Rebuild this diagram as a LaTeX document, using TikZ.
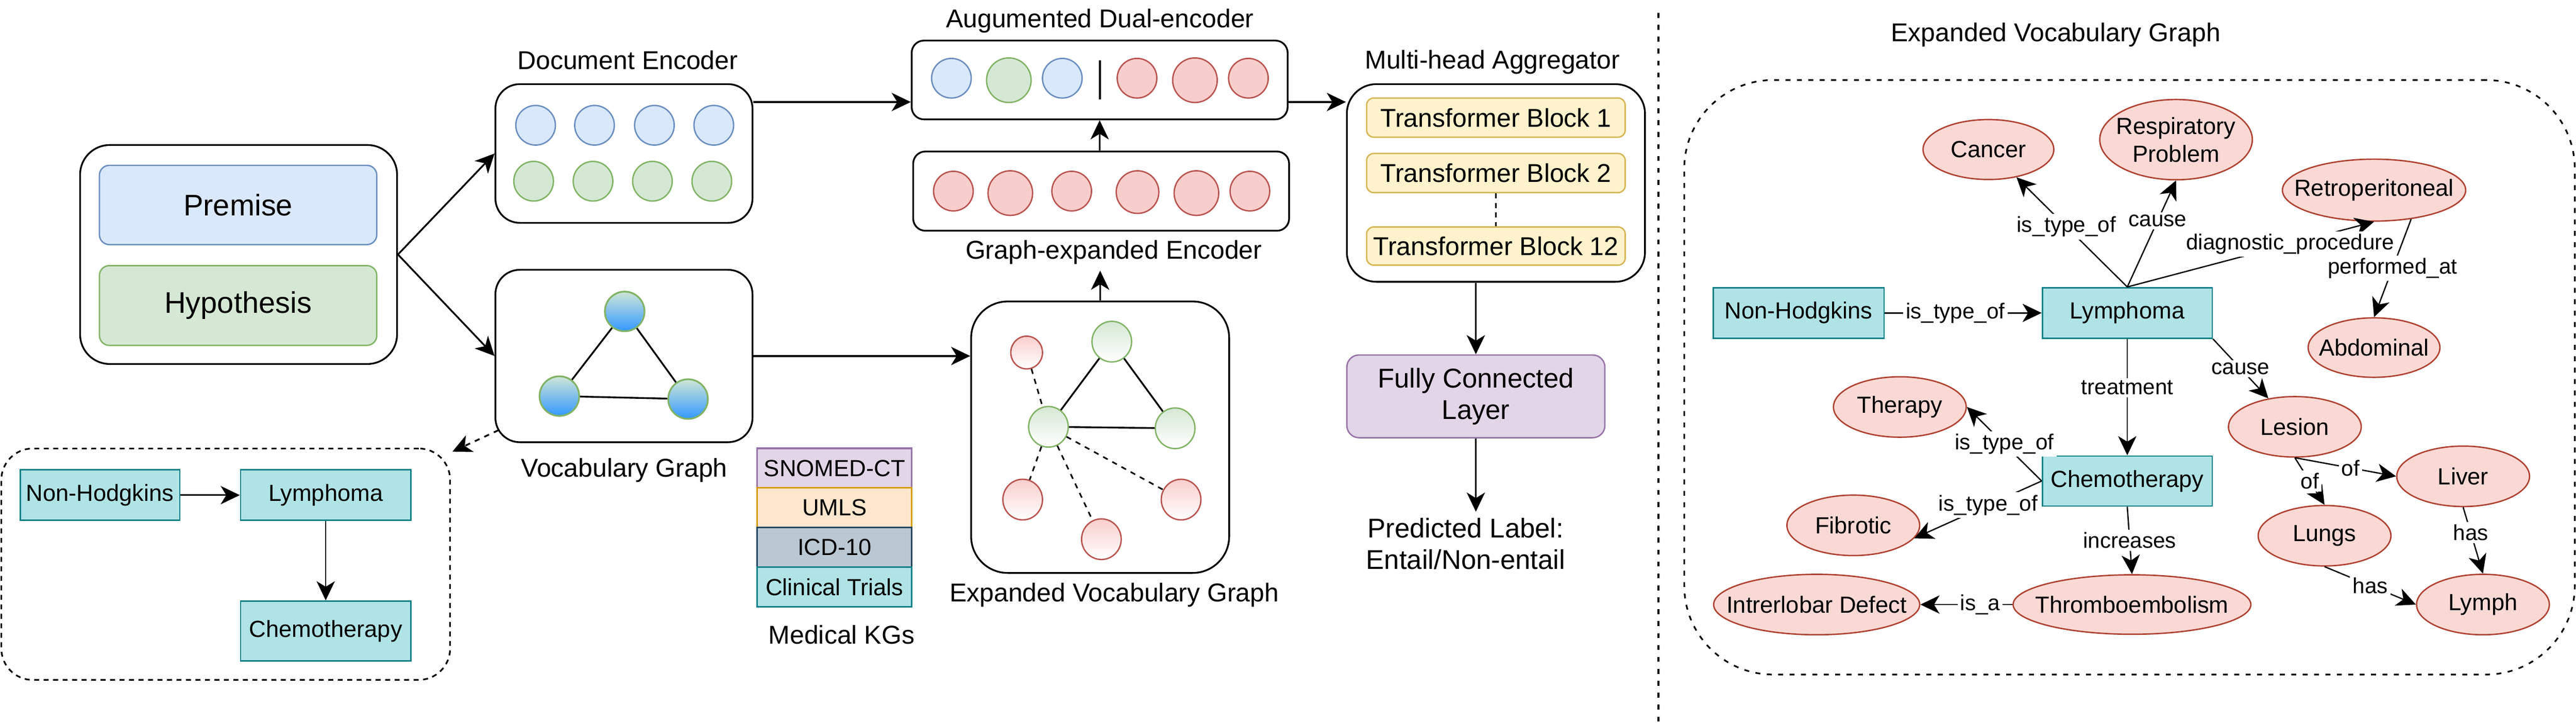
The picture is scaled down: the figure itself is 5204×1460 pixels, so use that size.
\documentclass[tikz,border=0pt]{standalone}
\usepackage{fontspec}
\setmainfont{Liberation Sans}
\usetikzlibrary{arrows.meta,shapes.geometric,calc}

\definecolor{blueF}{HTML}{DAE8FC}\definecolor{blueS}{HTML}{6C8EBF}
\definecolor{greenF}{HTML}{D5E8D4}\definecolor{greenS}{HTML}{82B366}
\definecolor{redF}{HTML}{F8CECC}\definecolor{redS}{HTML}{B85450}
\definecolor{tealF}{HTML}{B0E3E6}\definecolor{tealS}{HTML}{0E8088}
\definecolor{yelF}{HTML}{FFF2CC}\definecolor{yelS}{HTML}{D6B656}
\definecolor{purF}{HTML}{E1D5E7}\definecolor{purS}{HTML}{9673A6}
\definecolor{orF}{HTML}{FFE6CC}\definecolor{orS}{HTML}{D79B00}
\definecolor{grF}{HTML}{BAC8D3}\definecolor{grS}{HTML}{23445D}
\definecolor{kgF}{HTML}{FAD9D5}\definecolor{kgS}{HTML}{AE4132}
\definecolor{vgTop}{HTML}{CFE6D6}\definecolor{vgBot}{HTML}{3399FF}

\newcommand\fsXL{\fontsize{17.1pt}{20pt}\selectfont}
\newcommand\fsL{\fontsize{14.8pt}{17.8pt}\selectfont}
\newcommand\fsP{\fontsize{15.6pt}{18.2pt}\selectfont}
\newcommand\fsM{\fontsize{13.4pt}{16pt}\selectfont}
\newcommand\fsS{\fontsize{12.5pt}{15pt}\selectfont}

\tikzset{
  blk/.style={draw, line width=1pt, rounded corners=14pt, fill=white, inner sep=0pt},
  cbox/.style={draw, line width=0.8pt, rounded corners=5.7pt, inner sep=0pt},
  arr/.style={-{Stealth[length=11pt,width=10.5pt,inset=3.2pt]}, line width=1pt},
  edg/.style={-{Stealth[length=11pt,width=10.5pt,inset=3.2pt]}, line width=0.75pt},
  elbl/.style={fill=white, font=\fsS, inner sep=1.5pt},
  bcirc/.style={circle, draw=blueS, fill=blueF, line width=0.8pt, minimum size=0.80cm, inner sep=0pt},
  gcirc/.style={circle, draw=greenS, fill=greenF, line width=0.8pt, minimum size=0.80cm, inner sep=0pt},
  rcirc/.style={circle, draw=redS, fill=redF, line width=0.8pt, minimum size=0.80cm, inner sep=0pt},
  vgnode/.style={circle, draw=greenS, line width=1pt, top color=vgTop, bottom color=vgBot, minimum size=0.80cm, inner sep=0pt},
  egreen/.style={ellipse, draw=greenS, line width=0.8pt, top color=greenF, bottom color=white, minimum width=0.80cm, minimum height=0.82cm, inner sep=0pt},
  ered/.style={ellipse, draw=redS, line width=0.8pt, top color=redF, bottom color=white, minimum width=0.80cm, minimum height=0.82cm, inner sep=0pt},
  soledge/.style={line width=1pt},
  dshedge/.style={line width=0.9pt, dash pattern=on 3pt off 3pt},
  tbox/.style={draw=tealS, fill=tealF, line width=0.8pt, font=\fsM, inner sep=0pt},
  kgbox/.style={draw, line width=0.9pt, minimum width=3.12cm, minimum height=0.80cm, font=\fsM, inner sep=0pt},
  ell/.style={ellipse, draw=kgS, fill=kgF, line width=0.8pt, inner sep=0pt,
     label={[font=\fsM, align=center]center:#1}},
  dbox/.style={draw, line width=0.95pt, dash pattern=on 2.85pt off 2.6pt, inner sep=0pt},
}

\begin{document}
\begin{tikzpicture}[x=0.01cm,y=-0.01cm]
\useasboundingbox (0,0) rectangle (5204,1460);

% ---------- input ----------
\node[blk, rounded corners=17pt, minimum width=6.40cm, minimum height=4.42cm] (ph) at (482,514) {};
\node[cbox, fill=blueF, draw=blueS, minimum width=5.60cm, minimum height=1.60cm, font=\fsXL] (prem) at (481,414) {Premise};
\node[cbox, fill=greenF, draw=greenS, minimum width=5.60cm, minimum height=1.61cm, font=\fsXL] (hyp) at (481,617) {Hypothesis};

% ---------- document encoder ----------
\node[blk, minimum width=5.19cm, minimum height=2.80cm] (doc) at (1260.5,310) {};
\node[font=\fsL] (doclbl) at (1268,121) {Document Encoder};
\foreach \x [count=\i] in {1082,1201,1322,1442} \node[bcirc] (db\i) at (\x,253) {};
\foreach \x [count=\i] in {1078,1198,1318,1438} \node[gcirc] (dg\i) at (\x,366) {};

% ---------- augmented dual encoder ----------
\node[blk, rounded corners=7pt, minimum width=7.59cm, minimum height=1.59cm] (ad) at (2221.5,161.5) {};
\node[font=\fsL] (adlbl) at (2222,42) {Augumented Dual-encoder};
\node[bcirc] (a1) at (1922,158) {};
\node[gcirc, minimum size=0.90cm] (a2) at (2038,162) {};
\node[bcirc] (a3) at (2146,158) {};
\draw[line width=1pt] (2222,122) -- (2222,201);
\node[rcirc] (a4) at (2297,158) {};
\node[rcirc, minimum size=0.90cm] (a5) at (2414,162) {};
\node[rcirc] (a6) at (2522,158) {};

% ---------- graph-expanded encoder ----------
\node[blk, rounded corners=7pt, minimum width=7.59cm, minimum height=1.60cm] (ge) at (2224.5,386) {};
\node[font=\fsL] (gelbl) at (2250,510) {Graph-expanded Encoder};
\node[rcirc] (g1) at (1926,386) {};
\node[rcirc, minimum size=0.90cm] (g2) at (2041,390) {};
\node[rcirc] (g3) at (2165,386) {};
\node[rcirc, minimum size=0.86cm] (g4) at (2298,388) {};
\node[rcirc, minimum size=0.90cm] (g5) at (2417,390) {};
\node[rcirc] (g6) at (2525,386) {};

% ---------- vocabulary graph ----------
\node[blk, minimum width=5.19cm, minimum height=3.48cm] (vg) at (1260.5,719) {};
\node[font=\fsL] (vglbl) at (1261,950) {Vocabulary Graph};
\node[vgnode] (v1) at (1262,629) {};
\node[vgnode] (v2) at (1130,800) {};
\node[vgnode] (v3) at (1390,806) {};
\draw[soledge] (v1) -- (v2);
\draw[soledge] (v1) -- (v3);
\draw[soledge] (v2) -- (v3);

% ---------- small dashed example ----------
\node[dbox, rounded corners=18pt, minimum width=9.06cm, minimum height=4.67cm] (lbox) at (456,1139.5) {};
\node[tbox, minimum width=3.22cm, minimum height=1.02cm] (nh) at (202,1000) {Non-Hodgkins};
\node[tbox, minimum width=3.44cm, minimum height=1.02cm] (lym) at (658,1000) {Lymphoma};
\node[tbox, minimum width=3.44cm, minimum height=1.21cm] (chemo) at (658,1274.5) {Chemotherapy};
\draw[arr, line width=0.9pt] (nh) -- (lym);
\draw[arr, line width=0.7pt] (lym) -- (chemo);
\coordinate (vgcorner) at ($(vg.south west)+(8,-26)$);
\coordinate (lbcorner) at ($(lbox.north east)+(3,8)$);
\draw[arr, dash pattern=on 3pt off 3pt] (vgcorner) -- (lbcorner);

% ---------- medical KGs ----------
\node[kgbox, fill=purF, draw=purS] (snomed) at (1686,945.5) {SNOMED-CT};
\node[kgbox, fill=orF, draw=orS] (umls) at (1686,1025.5) {UMLS};
\node[kgbox, fill=grF, draw=grS] (icd) at (1686,1105.5) {ICD-10};
\node[kgbox, fill=tealF, draw=tealS] (clin) at (1686,1185.5) {Clinical Trials};
\node[font=\fsL] (kglbl) at (1700,1282) {Medical KGs};

% ---------- expanded vocabulary graph (middle) ----------
\node[blk, rounded corners=21pt, minimum width=5.21cm, minimum height=5.48cm] (evgb) at (2222.5,883) {};
\node[font=\fsL] (evglbl) at (2251,1202) {Expanded Vocabulary Graph};
\node[ered, minimum width=0.64cm, minimum height=0.66cm] (e1) at (2074,712) {};
\node[egreen] (e2) at (2246,690) {};
\node[egreen] (e3) at (2118,862) {};
\node[egreen] (e4) at (2374,865) {};
\node[ered] (e5) at (2066,1009) {};
\node[ered] (e6) at (2225,1089) {};
\node[ered] (e7) at (2386,1009) {};
\draw[soledge] (e2) -- (e3);
\draw[soledge] (e2) -- (e4);
\draw[soledge] (e3) -- (e4);
\draw[dshedge] (e1) -- (e3);
\draw[dshedge] (e3) -- (e5);
\draw[dshedge] (e3) -- (e6);
\draw[dshedge] (e3) -- (e7);
\draw[dshedge] ($(snomed.east)+(0,20)$) -- ($(snomed.east)+(0,20)$ -| evgb.west);

% ---------- multi-head aggregator ----------
\node[blk, rounded corners=17pt, minimum width=6.02cm, minimum height=3.99cm] (mha) at (3022,369.5) {};
\node[font=\fsL] (mhalbl) at (3015,125) {Multi-head Aggregator};
\node[cbox, fill=yelF, draw=yelS, rounded corners=4pt, minimum width=5.22cm, minimum height=0.79cm, font=\fsL] (tb1) at (3022,237.5) {Transformer Block 1};
\node[cbox, fill=yelF, draw=yelS, rounded corners=4pt, minimum width=5.22cm, minimum height=0.79cm, font=\fsL] (tb2) at (3022,349.5) {Transformer Block 2};
\node[cbox, fill=yelF, draw=yelS, rounded corners=4pt, minimum width=5.22cm, minimum height=0.77cm, font=\fsL] (tb12) at (3022,497) {Transformer Block 12};
\draw[line width=1pt, dash pattern=on 3pt off 2.5pt] (tb2.south) -- (tb12.north);
\node[cbox, fill=purF, draw=purS, rounded corners=7pt, minimum width=5.21cm, minimum height=1.67cm, font=\fsP, align=center] (fc) at (2981.5,800.5) {Fully Connected\\Layer};
\node[font=\fsP, align=center] (pred) at (2961,1098) {Predicted Label:\\Entail/Non-entail};

% ---------- main connectors ----------
\coordinate (yline) at (0,206);
\draw[arr] (ph.east) -- (doc.west);
\draw[arr] (ph.east) -- (vg.west);
\draw[arr] (doc.east |- yline) -- (ad.west |- yline);
\draw[arr] (ad.east |- yline) -- (mha.west |- yline);
\draw[arr] (ad.south |- ge.north) -- (ad.south);
\draw[arr] (evgb.north) -- (evgb.north |- gelbl.south);
\draw[arr] (vg.east) -- (vg.east -| evgb.west);
\draw[arr] (fc.north |- mha.south) -- (fc.north);
\draw[arr] (fc.south) -- (fc.south |- pred.north);

% ---------- separator ----------
\draw[line width=1.1pt, dash pattern=on 2.85pt off 4pt] (3350,26) -- (3350,1460);

% ---------- right panel ----------
\node[font=\fsL] (rtitle) at (4153,70) {Expanded Vocabulary Graph};
\node[dbox, rounded corners=51pt, dash pattern=on 2.85pt off 3.7pt, minimum width=17.98cm, minimum height=12.00cm] (rbox) at (4302,762) {};

\node[ell=Cancer, minimum width=2.64cm, minimum height=1.21cm] (cancer) at (4017,302) {};
\node[ell=Respiratory\\Problem, minimum width=3.08cm, minimum height=1.62cm] (resp) at (4396,282) {};
\node[ell=Retroperitoneal, minimum width=3.70cm, minimum height=1.25cm] (retro) at (4796,384) {};
\node[ell=Abdominal, minimum width=2.66cm, minimum height=1.20cm] (abdom) at (4796,702) {};
\node[tbox, minimum width=3.45cm, minimum height=1.02cm] (nh2) at (3633.5,632) {Non-Hodgkins};
\node[tbox, minimum width=3.43cm, minimum height=1.02cm] (lym2) at (4297.5,632) {Lymphoma};
\node[tbox, minimum width=3.43cm, minimum height=1.01cm] (chemo2) at (4297.5,971.5) {Chemotherapy};
\node[ell=Therapy, minimum width=2.68cm, minimum height=1.22cm] (therapy) at (3838,822) {};
\node[ell=Fibrotic, minimum width=2.68cm, minimum height=1.22cm] (fibrotic) at (3744,1061) {};
\node[ell=Intrerlobar Defect, minimum width=4.16cm, minimum height=1.22cm] (intr) at (3670,1221) {};
\node[ell=Thromboembolism, minimum width=4.80cm, minimum height=1.20cm] (thromb) at (4307,1221) {};
\node[ell=Lesion, minimum width=2.68cm, minimum height=1.22cm] (lesion) at (4636,862) {};
\node[ell=Liver, minimum width=2.68cm, minimum height=1.22cm] (liver) at (4976,962) {};
\node[ell=Lungs, minimum width=2.68cm, minimum height=1.22cm] (lungs) at (4696,1082) {};
\node[ell=Lymph, minimum width=2.68cm, minimum height=1.22cm] (lymph) at (5016,1221) {};

\draw[edg] (nh2) -- node[elbl, pos=0.45] {is\_type\_of} (lym2);
\draw[edg] (lym2.north) -- node[elbl, pos=0.55] {is\_type\_of} (cancer);
\draw[edg] (lym2.north) -- node[elbl, pos=0.62] {cause} (resp.south);
\draw[edg] (lym2.north) -- node[elbl, pos=0.66] {diagnostic\_procedure} (retro.south);
\draw[edg] (retro.-38) -- node[elbl, pos=0.5] {performed\_at} (abdom.north);
\draw[edg] (lym2.south east) -- node[elbl, pos=0.5] {cause} (lesion);
\draw[edg] (lym2.south) -- node[elbl, pos=0.42] {treatment} (chemo2.north);
\draw[edg] (chemo2.west) -- node[elbl, pos=0.5] {is\_type\_of} (therapy.east);
\draw[edg] (chemo2.west) -- node[elbl, pos=0.42] {is\_type\_of} (fibrotic.-12);
\draw[edg] (chemo2.south) -- node[elbl, pos=0.5] {increases} (thromb.north);
\draw[edg] (thromb.west) -- node[elbl, pos=0.35] {is\_a} (intr.east);
\draw[edg] (lesion.south) -- node[elbl, pos=0.55] {of} (liver.west);
\draw[edg] (lesion.south) -- node[elbl, pos=0.5] {of} (lungs.north);
\draw[edg] (liver.south) -- node[elbl, pos=0.38] {has} (lymph.north);
\draw[edg] (lungs.south) -- node[elbl, pos=0.5] {has} (lymph.west);
\end{tikzpicture}
\end{document}
